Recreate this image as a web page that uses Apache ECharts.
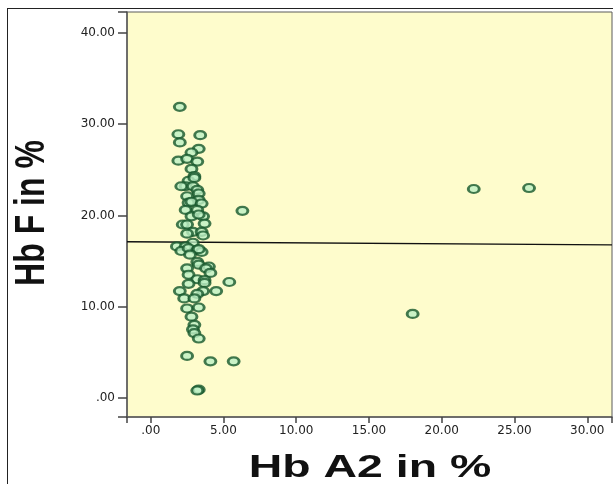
<!DOCTYPE html>
<html><head><meta charset="utf-8">
<script src="https://cdn.jsdelivr.net/npm/echarts@6/dist/echarts.min.js"></script>
<style>html,body{margin:0;padding:0;background:#fff;overflow:hidden}#c{width:613px;height:484px;position:relative}
#frame{position:absolute;left:7px;top:8px;width:700px;height:600px;border:1px solid #222;pointer-events:none}</style>
</head><body><div id="c"></div><div id="frame"></div>
<script>
// Hb A2 (%) values
var hbA2 = [2.0,1.9,3.4,2.0,3.3,2.8,1.9,2.5,3.2,2.8,3.0,2.6,3.0,2.4,2.1,2.9,3.2,3.3,2.5,3.3,2.6,2.8,3.5,2.4,3.2,2.8,3.6,3.3,2.2,2.5,3.7,2.9,2.5,3.5,3.6,2.9,1.8,2.4,2.1,2.6,3.2,3.5,3.3,2.7,3.2,3.3,4.0,2.5,3.8,4.1,2.6,3.2,3.7,3.7,2.6,5.4,2.0,3.6,4.5,3.2,2.3,3.0,2.5,3.3,2.8,3.0,2.9,3.0,3.3,2.5,4.1,5.7,3.3,3.2,6.3,22.2,26.0,18.0];
// Hb F (%) values
var hbF  = [31.9,28.9,28.8,28.0,27.3,26.9,26.0,26.2,25.9,25.1,24.3,23.8,24.1,23.2,23.2,23.2,22.8,22.4,22.1,21.7,21.4,21.5,21.3,20.6,20.6,19.9,19.9,20.1,19.0,19.0,19.1,18.2,18.0,18.2,17.8,17.0,16.6,16.6,16.1,16.4,16.2,16.0,16.3,15.7,14.9,14.6,14.4,14.2,14.2,13.7,13.5,13.0,12.9,12.6,12.5,12.7,11.7,11.7,11.7,11.4,10.9,10.9,9.8,9.9,8.9,8.0,7.5,7.1,6.5,4.6,4.0,4.0,0.9,0.8,20.5,22.9,23.0,9.2];
// Fit line end points
var fitX = [-1.63, 31.7];
var fitY = [17.1, 16.77];
// Axis ranges and tick values
var xRange = [-1.63, 31.7];
var yRange = [-2.1, 42.3];
var xTicks = [0,5,10,15,20,25,30];
var yTicks = [0,10,20,30,40];
var xTitle = 'Hb A2 in %';
var yTitle = 'Hb F in %';

var pts = hbA2.map(function(v,i){return [v,hbF[i]];});
var fit = fitX.map(function(v,i){return [v,fitY[i]];});
function fmt(v){ return v===0 ? '.00' : v.toFixed(2); }

var chart = echarts.init(document.getElementById('c'));
chart.setOption({
  animation:false,
  grid:{left:127,top:12,right:1,bottom:67,show:true,backgroundColor:'#FEFCCC',borderColor:'#5a5a5a'},
  xAxis:{type:'value',min:xRange[0],max:xRange[1],
    axisLine:{show:true,onZero:false,lineStyle:{color:'#5a5a5a',width:1.5}},
    splitLine:{show:false},
    axisTick:{show:true,length:6,lineStyle:{color:'#444',width:1.5}},
    axisLabel:{customValues:xTicks,formatter:fmt,margin:8,color:'#222',fontFamily:'DejaVu Sans',fontSize:12}
  },
  yAxis:{type:'value',min:yRange[0],max:yRange[1],
    axisLine:{show:true,onZero:false,lineStyle:{color:'#5a5a5a',width:1.5}},
    splitLine:{show:false},
    axisTick:{show:true,length:9,lineStyle:{color:'#444',width:1.5}},
    axisLabel:{customValues:yTicks,formatter:fmt,margin:12,color:'#222',fontFamily:'DejaVu Sans',fontSize:12}
  },
  graphic:[
    {type:'text',x:370,y:468,scaleX:1.45,style:{text:xTitle,font:'bold 32px "Liberation Sans", Arial, sans-serif',fill:'#111',align:'center',verticalAlign:'middle'}},
    {type:'text',x:32,y:213,rotation:Math.PI/2,scaleY:1.35,style:{text:yTitle,font:'bold 32px "Liberation Sans", Arial, sans-serif',fill:'#111',align:'center',verticalAlign:'middle'}}
  ],
  series:[
    {type:'line',data:fit,symbol:'none',lineStyle:{color:'#111',width:1.5},z:1,silent:true},
    {type:'scatter',data:pts,symbol:'circle',symbolSize:[11,8],
      itemStyle:{color:'#BDEFC4',borderColor:'#17582C',borderWidth:2.5},z:2}
  ]
});
</script></body></html>
